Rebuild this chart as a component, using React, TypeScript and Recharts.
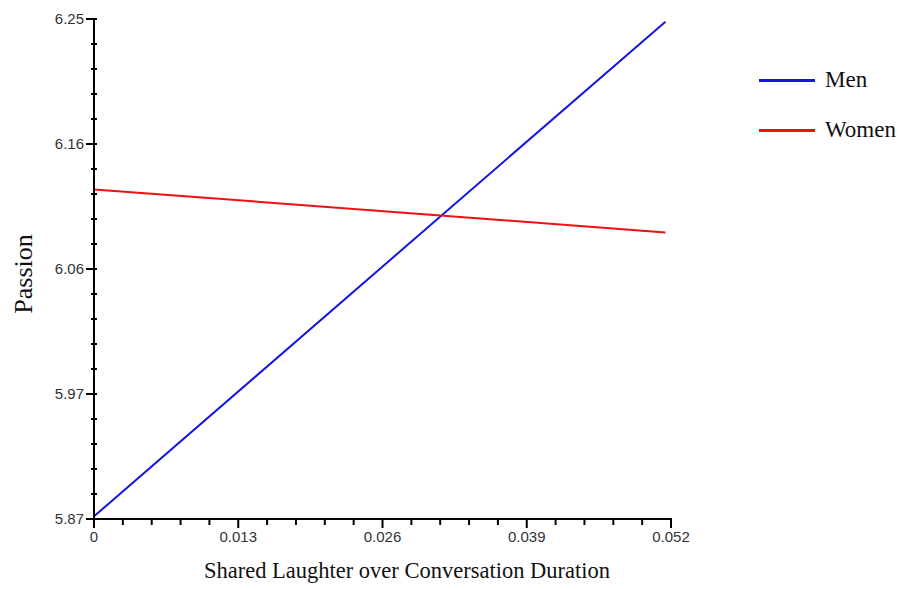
import { LineChart, Line, XAxis, YAxis, Legend, Label } from 'recharts';

// x = shared laughter / conversation duration
const laughter = [0, 0.0515];
const menPassion = [5.872, 6.248];
const womenPassion = [6.1205, 6.0878];

const yMajor = [5.87, 5.965, 6.06, 6.155, 6.25];
const yLabels = ['5.87', '5.97', '6.06', '6.16', '6.25'];
const xMajor = [0, 0.013, 0.026, 0.039, 0.052];
const xLabels = ['0', '0.013', '0.026', '0.039', '0.052'];

const data = laughter.map((x, i) => ({ x, men: menPassion[i], women: womenPassion[i] }));

// 4 minor ticks between each pair of major ticks
function withMinor(major: number[]) {
  const out: number[] = [];
  for (let i = 0; i < major.length - 1; i++) {
    const step = (major[i + 1] - major[i]) / 5;
    for (let k = 0; k < 5; k++) out.push(+(major[i] + step * k).toFixed(6));
  }
  out.push(major[major.length - 1]);
  return out;
}

const yTicks = withMinor(yMajor);
const xTicks = withMinor(xMajor);

const labelFor = (v: number, major: number[], labels: string[]) => {
  const i = major.findIndex((m) => Math.abs(m - v) < 1e-6);
  return i >= 0 ? labels[i] : null;
};

const sans = '"Liberation Sans", Arial, sans-serif';
const serif = '"Liberation Serif", "Times New Roman", serif';

function YTick({ x, y, payload }: any) {
  const label = labelFor(payload.value, yMajor, yLabels);
  return (
    <g>
      {label ? (
        <>
          <line x1={x - 8} x2={x + 3} y1={y} y2={y} stroke="#000" strokeWidth={2} />
          <text x={x - 10} y={y + 5} textAnchor="end" fontFamily={sans} fontSize={15} fill="#333">
            {label}
          </text>
        </>
      ) : (
        <line x1={x - 3} x2={x + 3} y1={y} y2={y} stroke="#000" strokeWidth={2} />
      )}
    </g>
  );
}

function XTick({ x, y, payload }: any) {
  const label = labelFor(payload.value, xMajor, xLabels);
  return (
    <g>
      {label ? (
        <>
          <line x1={x} x2={x} y1={y - 1} y2={y + 9} stroke="#000" strokeWidth={2} />
          <text x={x} y={y + 23} textAnchor="middle" fontFamily={sans} fontSize={15} fill="#333">
            {label}
          </text>
        </>
      ) : (
        <line x1={x} x2={x} y1={y} y2={y + 6} stroke="#000" strokeWidth={2} />
      )}
    </g>
  );
}

function LegendBox({ payload }: any) {
  return (
    <div style={{ fontFamily: serif, fontSize: 23, color: '#111' }}>
      {(payload || []).map((p: any) => (
        <div key={p.value} style={{ display: 'flex', alignItems: 'center', height: 50 }}>
          <div style={{ width: 56, height: 3, background: p.color, marginRight: 10 }} />
          <span>{p.value}</span>
        </div>
      ))}
    </div>
  );
}

export default function App() {
  return (
    <div style={{ position: 'absolute', left: 0, top: 0, background: '#fff' }}>
      <LineChart
        width={903}
        height={589}
        data={data}
        margin={{ top: 19, right: 232, bottom: 0, left: 34 }}
      >
        <XAxis
          dataKey="x"
          type="number"
          domain={[0, 0.052]}
          ticks={xTicks}
          interval={0}
          tickSize={0}
          tickMargin={0}
          height={70}
          stroke="#000"
          strokeWidth={2}
          tick={<XTick />}
        >
          <Label
            content={() => (
              <text x={407} y={578} textAnchor="middle" fontFamily={serif} fontSize={22.5} fill="#111">
                Shared Laughter over Conversation Duration
              </text>
            )}
          />
        </XAxis>
        <YAxis
          type="number"
          domain={[5.87, 6.25]}
          ticks={yTicks}
          interval={0}
          tickSize={0}
          tickMargin={0}
          width={60}
          stroke="#000"
          strokeWidth={2}
          tick={<YTick />}
        >
          <Label
            content={() => (
              <text
                x={32}
                y={274}
                transform="rotate(-90 32 274)"
                textAnchor="middle"
                fontFamily={serif}
                fontSize={26}
                fill="#111"
              >
                Passion
              </text>
            )}
          />
        </YAxis>
        <Legend
          layout="vertical"
          align="center"
          verticalAlign="middle"
          content={<LegendBox />}
          wrapperStyle={{ position: 'absolute', left: 759, top: 55, width: 144 }}
        />
        <Line
          dataKey="men"
          name="Men"
          stroke="#1414e6"
          strokeWidth={2}
          dot={false}
          isAnimationActive={false}
        />
        <Line
          dataKey="women"
          name="Women"
          stroke="#f01010"
          strokeWidth={2}
          dot={false}
          isAnimationActive={false}
        />
      </LineChart>
    </div>
  );
}
